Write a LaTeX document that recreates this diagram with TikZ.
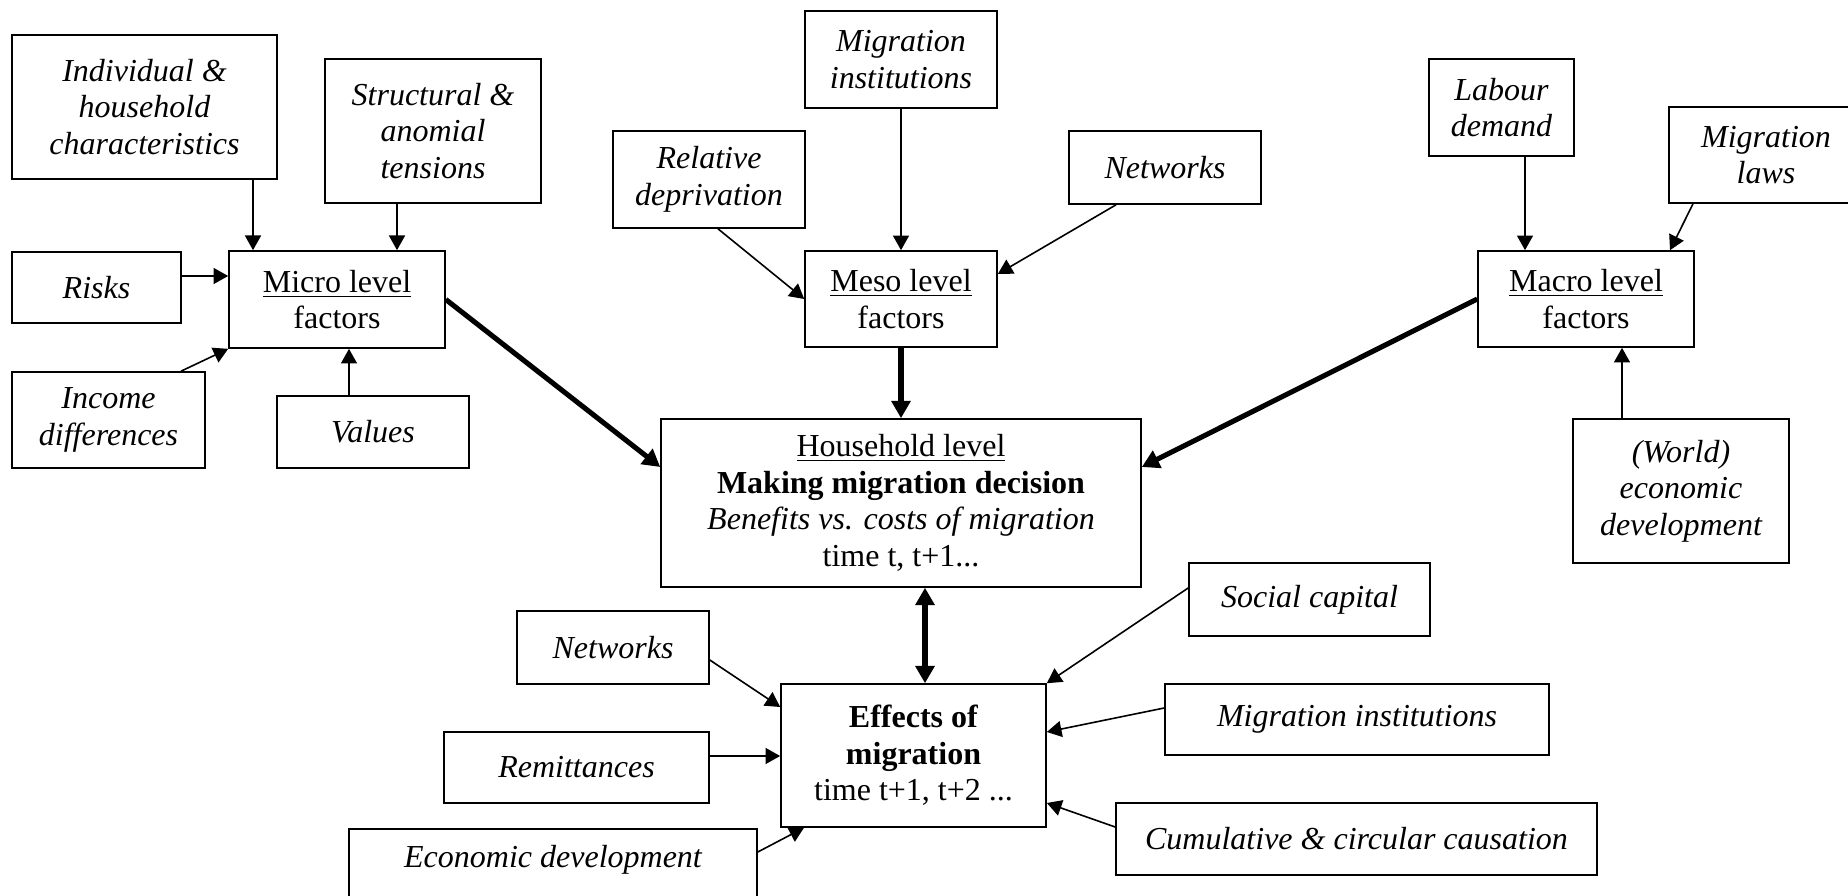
\documentclass[tikz,border=0pt]{standalone}
\usepackage{fontspec}
\setmainfont{Liberation Serif}
\usetikzlibrary{arrows.meta}

\begin{document}
\begin{tikzpicture}[x=0.375pt,y=-0.375pt,
		box/.style={draw,rectangle,line width=0.6pt,align=center,inner sep=2pt,font=\fontsize{12}{13.7}\selectfont},
		factor/.style={box,font=\fontsize{12}{13.7}\selectfont\itshape},
		arr/.style={-{Triangle[length=5.5pt,width=6pt]},line width=0.6pt},
		bigarr/.style={-{Triangle[length=6.5pt,width=7pt]},line width=1.9pt}]
	\useasboundingbox (0,0) rectangle (1848,896);

	% micro level
	\node[factor,minimum width=99.4pt,minimum height=54pt] (indiv) at (144.5,107) {Individual \&\\household\\characteristics};
	\node[factor,minimum width=81pt,minimum height=54pt] (struct) at (433,131) {Structural \&\\anomial\\tensions};
	\node[factor,minimum width=63.4pt,minimum height=26.6pt] (risks) at (96.5,287.5) {Risks};
	\node[box,minimum width=81pt,minimum height=36.4pt] (micro) at (337,299.5) {\underline{Micro level}\\factors};
	\node[factor,minimum width=72.4pt,minimum height=36pt] (income) at (108.5,420) {Income\\differences};
	\node[factor,minimum width=72pt,minimum height=27pt] (values) at (373,432) {Values};

	% meso level
	\node[factor,minimum width=72pt,minimum height=36.4pt] (mesoinst) at (901,59.5) {Migration\\institutions};
	\node[factor,minimum width=72pt,minimum height=36.4pt] (reldep) at (709,179.5) {Relative\\deprivation};
	\node[factor,minimum width=72pt,minimum height=27.4pt] (mesonet) at (1165,167.5) {Networks};
	\node[box,minimum width=72pt,minimum height=36pt] (meso) at (901,299) {\underline{Meso level}\\factors};

	% macro level
	\node[factor,minimum width=54.4pt,minimum height=36.4pt] (labour) at (1501.5,107.5) {Labour\\demand};
	\node[factor,minimum width=72.8pt,minimum height=36pt] (miglaws) at (1766,155) {Migration\\laws};
	\node[box,minimum width=81pt,minimum height=36pt] (macro) at (1586,299) {\underline{Macro level}\\factors};
	\node[factor,minimum width=81pt,minimum height=54pt] (world) at (1681,491) {(World)\\economic\\development};

	% household
	\node[box,minimum width=180pt,minimum height=63pt] (household) at (901,503) {\underline{Household level}\\\textbf{Making migration decision}\\\textit{Benefits vs. costs of migration}\\time t, t+1...};

	% effects
	\node[box,minimum width=99.4pt,minimum height=53.6pt] (effects) at (913.5,755.5) {\textbf{Effects of}\\\textbf{migration}\\time t+1, t+2 ...};
	\node[factor,minimum width=90.4pt,minimum height=27.4pt] (social) at (1309.5,599.5) {Social capital};
	\node[factor,minimum width=72pt,minimum height=27.4pt] (effnet) at (613,647.5) {Networks};
	\node[factor,minimum width=144pt,minimum height=26.6pt] (effinst) at (1357,719.5) {Migration institutions};
	\node[factor,minimum width=99.4pt,minimum height=26.6pt] (remit) at (576.5,767.5) {Remittances};
	\node[factor,minimum width=180.4pt,minimum height=27pt] (cumul) at (1356.5,839) {Cumulative \& circular causation};
	\node[factor,anchor=north,minimum width=153pt,text height=9pt,text depth=30pt,inner ysep=5.6pt] (ecodev) at (553,828) {Economic development};

	\draw[arr] (indiv.south -| 253,0) -- (micro.north -| 253,0);
	\draw[arr] (struct.south -| 397,0) -- (micro.north -| 397,0);
	\draw[arr] (risks.east |- 0,276) -- (micro.west |- 0,276);
	\draw[arr] (income.north -| 181,0) -- (micro.south west);
	\draw[arr] (values.north -| 349,0) -- (micro.south -| 349,0);

	\draw[arr] (mesoinst.south) -- (meso.north);
	\draw[arr] (reldep.south -| 718,0) -- (meso.west);
	\draw[arr] (mesonet.south -| 1116,0) -- (meso.east |- 0,274);

	\draw[arr] (labour.south -| 1525,0) -- (macro.north -| 1525,0);
	\draw[arr] (miglaws.south -| 1693,0) -- (macro.north -| 1670,0);
	\draw[arr] (world.north -| 1622,0) -- (macro.south -| 1622,0);

	\draw[bigarr] (micro.east) -- (household.west |- 0,467);
	\draw[bigarr] (meso.south) -- (household.north);
	\draw[bigarr] (macro.west) -- (household.east |- 0,467);
	\draw[bigarr,{Triangle[length=6.5pt,width=7pt]}-{Triangle[length=6.5pt,width=7pt]}] (household.south -| 925,0) -- (effects.north -| 925,0);

	\draw[arr] (effnet.east |- 0,660) -- (effects.west |- 0,707);
	\draw[arr] (social.west |- 0,588) -- (effects.north east);
	\draw[arr] (effinst.west |- 0,708) -- (effects.east |- 0,732);
	\draw[arr] (remit.east |- 0,756) -- (effects.west |- 0,756);
	\draw[arr] (cumul.west |- 0,827) -- (effects.east |- 0,803);
	\draw[arr] (ecodev.east |- 0,852) -- (effects.south -| 804,0);
\end{tikzpicture}
\end{document}
